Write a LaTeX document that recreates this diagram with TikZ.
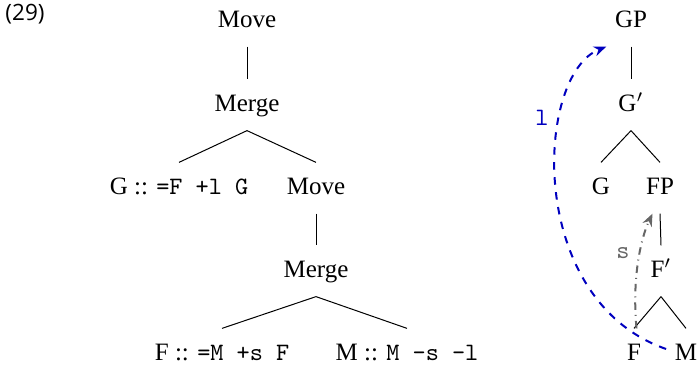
\documentclass[tikz,border=0pt]{standalone}
\usepackage{fontspec}
\setmainfont{Liberation Serif}
\newfontfamily\exfont{Open Sans}
\usetikzlibrary{arrows.meta}

\begin{document}
\begin{tikzpicture}[
    x=0.4pt, y=-0.4pt,
    tn/.style = {inner xsep=3.3pt, inner ysep=4.8pt, text height=8pt, text depth=2.5pt},
    br/.style = {line width=0.4pt},
    movel/.style = {->,>={Stealth[length=5pt,width=4pt]},dashed,color=blue!75!black,thick},
    moves/.style = {->,>={Stealth[length=5pt,width=4pt]},dash dot,color=black!60,thick}
]
    \useasboundingbox (0,0) rectangle (699,365);

    \node at (25,14) (EX) {\exfont\small (29)};

    % Derivation tree
    \node at (247,21) [tn] (A1) {Move};
    \node at (247,105) [tn] (A2) {Merge};
    \node at (179,188) [tn] (B1) {G :: \texttt{=F +l G}};
    \node at (316,188) [tn] (B2) {Move};
    \node at (316,271) [tn] (C1) {Merge};
    \node at (222,354) [tn] (D1) {F :: \texttt{=M +s F}};
    \node at (407,354) [tn] (D2) {M :: \texttt{M -s -l}};

    \draw [br] (A1.south) -- (A2.north);
    \draw [br] (A2.south) -- (B1.north);
    \draw [br] (A2.south) -- (B2.north);
    \draw [br] (B2.south) -- (C1.north);
    \draw [br] (C1.south) -- (D1.north);
    \draw [br] (C1.south) -- (D2.north);

    % Derived tree
    \node at (631,21) [tn] (GP) {GP};
    \node at (631,105) [tn] (Gb) {G$'$};
    \node at (601,188) [tn] (G) {G};
    \node at (660,188) [tn] (FP) {FP};
    \node at (661,271) [tn] (Fb) {F$'$};
    \node at (634,354) [tn] (F) {F};
    \node at (686,354) [tn] (M) {M};

    \draw [br] (GP.south) -- (Gb.north);
    \draw [br] (Gb.south) -- (G.north);
    \draw [br] (Gb.south) -- (FP.north);
    \draw [br] (FP.south) -- (Fb.north);
    \draw [br] (Fb.south) -- (F.north);
    \draw [br] (Fb.south) -- (M.north);

    % Movement
    \draw [movel] ([yshift=2pt]M.west) .. controls (525,300) and (535,75) .. (GP.south west);
    \node at (542,118) [color=blue!75!black] (L) {\texttt{l}};
    \draw [moves] ([xshift=1pt]F.north) .. controls (632,280) and (640,240) .. ([xshift=-3pt]FP.south);
    \node at (623,253) [color=black!60] (S) {\texttt{s}};
\end{tikzpicture}
\end{document}
